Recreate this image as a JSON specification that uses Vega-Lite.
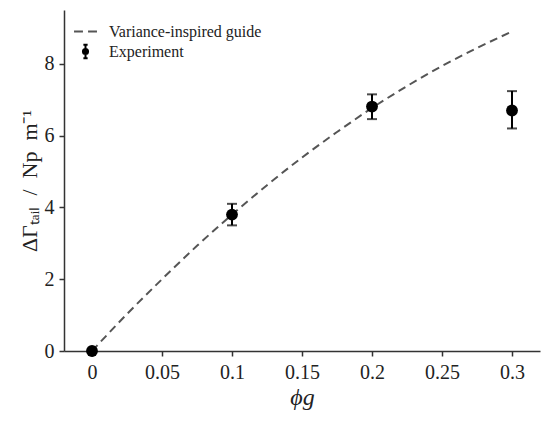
{
  "$schema": "https://vega.github.io/schema/vega-lite/v6.json",
  "width": 476,
  "height": 341,
  "autosize": {"type": "none"},
  "padding": {"left": 64, "top": 10, "right": 10, "bottom": 74},
  "background": "white",
  "datasets": {
    "guide": [
      {"phi": 0, "dgamma": 0, "series": "Variance-inspired guide"},
      {"phi": 0.025, "dgamma": 1.03, "series": "Variance-inspired guide"},
      {"phi": 0.05, "dgamma": 2.0, "series": "Variance-inspired guide"},
      {"phi": 0.075, "dgamma": 2.93, "series": "Variance-inspired guide"},
      {"phi": 0.1, "dgamma": 3.8, "series": "Variance-inspired guide"},
      {"phi": 0.125, "dgamma": 4.62, "series": "Variance-inspired guide"},
      {"phi": 0.15, "dgamma": 5.39, "series": "Variance-inspired guide"},
      {"phi": 0.175, "dgamma": 6.1, "series": "Variance-inspired guide"},
      {"phi": 0.2, "dgamma": 6.77, "series": "Variance-inspired guide"},
      {"phi": 0.225, "dgamma": 7.38, "series": "Variance-inspired guide"},
      {"phi": 0.25, "dgamma": 7.94, "series": "Variance-inspired guide"},
      {"phi": 0.275, "dgamma": 8.44, "series": "Variance-inspired guide"},
      {"phi": 0.3, "dgamma": 8.9, "series": "Variance-inspired guide"}
    ],
    "experiment": [
      {"phi": 0, "dgamma": 0, "lo": 0, "hi": 0, "series": "Experiment"},
      {"phi": 0.1, "dgamma": 3.8, "lo": 3.5, "hi": 4.1, "series": "Experiment"},
      {"phi": 0.2, "dgamma": 6.81, "lo": 6.46, "hi": 7.15, "series": "Experiment"},
      {"phi": 0.3, "dgamma": 6.7, "lo": 6.2, "hi": 7.24, "series": "Experiment"}
    ]
  },
  "layer": [
    {
      "data": {"name": "guide"},
      "mark": {"type": "line", "strokeDash": [8, 5], "strokeWidth": 2, "interpolate": "monotone"},
      "encoding": {
        "x": {"field": "phi", "type": "quantitative"},
        "y": {"field": "dgamma", "type": "quantitative"},
        "color": {"field": "series", "type": "nominal"}
      }
    },
    {
      "data": {"name": "experiment"},
      "mark": {
        "type": "errorbar",
        "ticks": {"size": 10, "thickness": 2, "color": "black"},
        "rule": {"strokeWidth": 2, "color": "black"}
      },
      "encoding": {
        "x": {"field": "phi", "type": "quantitative"},
        "y": {"field": "lo", "type": "quantitative"},
        "y2": {"field": "hi"}
      }
    },
    {
      "data": {"name": "experiment"},
      "mark": {"type": "point", "filled": true, "size": 140, "opacity": 1},
      "encoding": {
        "x": {"field": "phi", "type": "quantitative"},
        "y": {"field": "dgamma", "type": "quantitative"},
        "color": {"field": "series", "type": "nominal"}
      }
    }
  ],
  "encoding": {
    "x": {
      "field": "phi",
      "type": "quantitative",
      "scale": {"domain": [-0.02, 0.32], "nice": false, "zero": false},
      "axis": {
        "title": "ϕg",
        "values": [0, 0.05, 0.1, 0.15, 0.2, 0.25, 0.3],
        "format": "~g",
        "labelFontSize": 20,
        "labelPadding": 6,
        "titlePadding": 3,
        "titleFontSize": 24,
        "titleFontStyle": "italic"
      }
    },
    "y": {
      "field": "dgamma",
      "type": "quantitative",
      "scale": {"domain": [0, 9.5], "nice": false},
      "axis": {
        "title": "ΔΓₜₐᵢₗ\u2002/\u2002Np\u2002m⁻¹",
        "values": [0, 2, 4, 6, 8],
        "labelFontSize": 20,
        "labelPadding": 5,
        "titlePadding": 3,
        "titleFontSize": 22
      }
    },
    "color": {
      "field": "series",
      "type": "nominal",
      "scale": {"domain": ["Variance-inspired guide", "Experiment"], "range": ["#555555", "#000000"]},
      "legend": {
        "title": null,
        "orient": "top-left",
        "offset": 12,
        "padding": 0,
        "rowPadding": 0,
        "symbolSize": 289,
        "labelOffset": 14,
        "labelFontSize": 16,
        "labelColor": "#222222",
        "encode": {
          "symbols": {
            "update": {
              "shape": {"signal": "datum.value === 'Experiment' ? 'M0,-0.8V0.8M-0.25,-0.8H0.25M-0.25,0.8H0.25M0.3,0A0.3,0.3,0,1,1,-0.3,0A0.3,0.3,0,1,1,0.3,0Z' : 'M-1.35,0H-0.3M0.3,0H1.35'"},
              "stroke": {"signal": "datum.value === 'Experiment' ? '#000000' : '#555555'"},
              "fill": {"signal": "datum.value === 'Experiment' ? '#000000' : 'transparent'"},
              "strokeWidth": {"value": 2},
              "strokeDash": {"value": []},
              "opacity": {"value": 1}
            }
          }
        }
      }
    }
  },
  "config": {
    "view": {"stroke": null},
    "font": "Liberation Serif",
    "axis": {
      "grid": false,
      "labelFont": "Liberation Serif",
      "titleFont": "Liberation Serif",
      "labelColor": "#222222",
      "titleColor": "#222222",
      "titleFontWeight": "normal",
      "domainColor": "#333333",
      "domainWidth": 1.5,
      "tickColor": "#333333",
      "tickWidth": 1.5,
      "tickSize": 5
    },
    "legend": {
      "labelFont": "Liberation Serif"
    }
  }
}
